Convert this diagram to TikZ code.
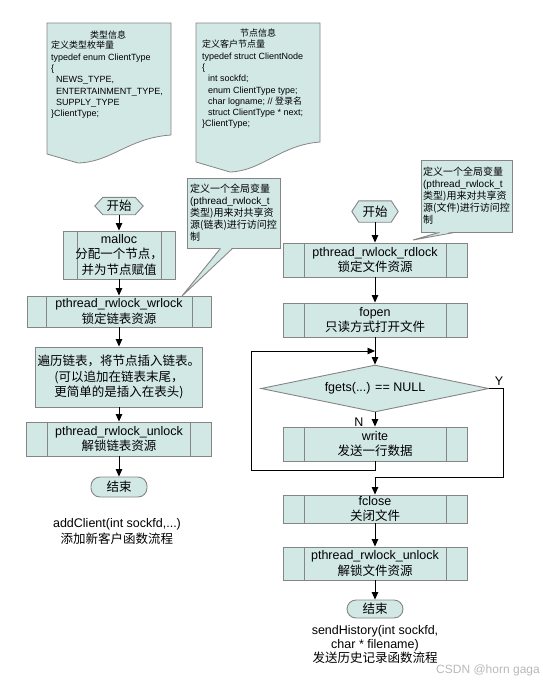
\documentclass[tikz,border=0pt]{standalone}
\usepackage{fontspec}
\setmainfont{Liberation Sans}
\newfontfamily\cjk{Noto Sans CJK SC}
\usepackage{tikz}
\usetikzlibrary{positioning,arrows.meta,shapes.geometric,backgrounds}
\definecolor{edge}{HTML}{858585}
\definecolor{tealbg}{HTML}{D1E8E5}
\newcommand\flowfont{\fontsize{12.5}{15.5}\selectfont}
\newcommand\notefont{\fontsize{9}{11.3}\selectfont}
\newcommand\callfont{\fontsize{10}{12}\selectfont}
\tikzset{
  >={Triangle[length=7.5pt,width=6.5pt]},
  box/.style={draw=edge, fill=tealbg, line width=0.9pt, inner sep=0pt, align=center, font=\flowfont},
  proc/.style={box, path picture={
      \draw[edge, line width=0.9pt]
        ([xshift=#1]path picture bounding box.north west) -- ([xshift=#1]path picture bounding box.south west)
        ([xshift=-#1]path picture bounding box.north east) -- ([xshift=-#1]path picture bounding box.south east);}},
  proc/.default=21pt,
  term/.style={box, rounded corners=9pt},
  hexa/.style={inner sep=0pt, font=\flowfont\cjk},
  hexline/.style={draw=edge, fill=tealbg, line width=0.9pt},
  decide/.style={box, diamond, aspect=4.85},
  docbox/.style={draw=edge, fill=tealbg, line width=0.8pt},
  callout/.style={box, font=\callfont, align=left},
  arr/.style={->, line width=0.9pt, black},
  lbl/.style={font=\flowfont, inner sep=0pt},
}
\begin{document}
\begin{tikzpicture}[x=1pt,y=-1pt]
  \useasboundingbox (0,0) rectangle (542,686);
  % data type notes
  \filldraw[docbox] (47,23) -- (171,23) -- (171,135) .. controls (128,138) and (112,162) .. (78,163) -- (47,154) -- cycle;
  \node[font=\notefont\cjk, inner sep=0pt] (t1) at (108,35) {类型信息};
  \node[font=\notefont, align=left, anchor=north west, inner sep=0pt] (t1b) at (51,41)
    {{\cjk 定义类型枚举量}\\typedef enum ClientType\\\{\\
     \hspace*{5pt}NEWS\_TYPE,\\\hspace*{5pt}ENTERTAINMENT\_TYPE,\\\hspace*{5pt}SUPPLY\_TYPE\\\}ClientType;};
  \filldraw[docbox] (196,23) -- (320,23) -- (320,142) .. controls (280,145) and (262,171) .. (230,172) -- (196,162) -- cycle;
  \node[font=\notefont\cjk, inner sep=0pt] (t2) at (258,33) {节点信息};
  \node[font=\notefont, align=left, anchor=north west, inner sep=0pt] (t2b) at (202,40)
    {{\cjk 定义客户节点量}\\typedef struct ClientNode\\\{\\
     \hspace*{6pt}int sockfd;\\\hspace*{6pt}enum ClientType type;\\\hspace*{6pt}char logname; // {\cjk 登录名}\\
     \hspace*{6pt}struct ClientType * next;\\\}ClientType;};

  % addClient
  \node[hexa, minimum width=48pt, minimum height=17pt] (ls) at (119,206) {开始};
  \begin{scope}[on background layer]
    \filldraw[hexline] (ls.west) -- ([xshift=8pt]ls.north west) -- ([xshift=-8pt]ls.north east) -- (ls.east)
      -- ([xshift=-8pt]ls.south east) -- ([xshift=8pt]ls.south west) -- cycle;
  \end{scope}
  \node[proc=14pt, minimum width=112pt, minimum height=48pt] (lm) at (119,255)
    {malloc\\{\cjk 分配一个节点，}\\{\cjk 并为节点赋值}};
  \node[proc=19pt, minimum width=184pt, minimum height=31pt] (lw) at (119,311.5)
    {pthread\_rwlock\_wrlock\\{\cjk 锁定链表资源}};
  \node[box, minimum width=167pt, minimum height=60pt, font=\flowfont\cjk] (lt) at (119,377)
    {遍历链表，将节点插入链表。\\(可以追加在链表末尾，\\更简单的是插入在表头)};
  \node[proc, minimum width=185pt, minimum height=34pt] (lu) at (119,439)
    {pthread\_rwlock\_unlock\\{\cjk 解锁链表资源}};
  \node[term, minimum width=56pt, minimum height=20pt, font=\flowfont\cjk] (le) at (119,487) {结束};
  \node[lbl, align=center] (lc) at (117,531.5) {addClient(int sockfd,...)\\{\cjk 添加新客户函数流程}};
  \draw[arr] (ls) -- (lm);
  \draw[arr] (lm) -- (lw);
  \draw[arr] (lw) -- (lt);
  \draw[arr] (lt) -- (lu);
  \draw[arr] (lu) -- (le);

  % rwlock note, left
  \node[callout, minimum width=93pt, minimum height=70pt] (lnote) at (233.5,213)
    {{\cjk 定义一个全局变量}\\(pthread\_rwlock\_t\\{\cjk 类型)用来对共享资}\\{\cjk 源(链表)进行访问控}\\{\cjk 制}};
  \coordinate (ltip) at (182,296);
  \fill[tealbg] ([xshift=-13pt,yshift=1pt]lnote.south) -- (ltip) -- ([xshift=-1pt,yshift=1pt]lnote.south) -- cycle;
  \draw[edge, line width=0.9pt] ([xshift=-13pt]lnote.south) -- (ltip) -- ([xshift=-1pt]lnote.south);

  % sendHistory
  \node[hexa, minimum width=46pt, minimum height=21pt] (rs) at (375,211.5) {开始};
  \begin{scope}[on background layer]
    \filldraw[hexline] (rs.west) -- ([xshift=7pt]rs.north west) -- ([xshift=-7pt]rs.north east) -- (rs.east)
      -- ([xshift=-7pt]rs.south east) -- ([xshift=7pt]rs.south west) -- cycle;
  \end{scope}
  \node[proc, minimum width=184pt, minimum height=34pt] (rr) at (375,260)
    {pthread\_rwlock\_rdlock\\{\cjk 锁定文件资源}};
  \node[proc, minimum width=184pt, minimum height=34pt] (ro) at (375,320)
    {fopen\\{\cjk 只读方式打开文件}};
  \node[decide, minimum width=228pt, minimum height=47pt] (rd) at (375,388.5) {fgets(...) == NULL};
  \node[proc, minimum width=184pt, minimum height=34pt] (rw) at (375,444)
    {write\\{\cjk 发送一行数据}};
  \node[proc, minimum width=184pt, minimum height=28pt] (rc) at (375,509)
    {fclose\\{\cjk 关闭文件}};
  \node[proc, minimum width=184pt, minimum height=33pt] (ru) at (375,563.5)
    {pthread\_rwlock\_unlock\\{\cjk 解锁文件资源}};
  \node[term, minimum width=56pt, minimum height=18pt, font=\flowfont\cjk] (re) at (375,609) {结束};
  \node[lbl, align=center, font=\fontsize{12.5}{14}\selectfont] (rcap) at (375,644)
    {sendHistory(int sockfd,\\char * filename)\\{\cjk 发送历史记录函数流程}};
  \node[lbl] (ylab) at (499,381) {Y};
  \node[lbl] (nlab) at (359,422) {N};
  \coordinate (lpb) at (251,470);
  \coordinate (j1) at (375,351);
  \coordinate (yb) at (503,477);
  \draw[arr] (rs) -- (rr);
  \draw[arr] (rr) -- (ro);
  \draw[arr] (ro) -- (rd);
  \draw[arr] (rd) -- (rw);
  \draw[arr] (rw.south) |- (lpb) |- (j1);
  \draw[arr] (rd.east) -| (yb) -| (rc.north);
  \draw[arr] (rc) -- (ru);
  \draw[arr] (ru) -- (re);

  % rwlock note, right
  \node[callout, minimum width=91pt, minimum height=72pt] (rnote) at (466.5,196)
    {{\cjk 定义一个全局变量}\\(pthread\_rwlock\_t\\{\cjk 类型)用来对共享资}\\{\cjk 源(文件)进行访问控}\\{\cjk 制}};
  \coordinate (rtip) at (413,240);
  \fill[tealbg] ([xshift=-27pt,yshift=1pt]rnote.south) -- (rtip) -- ([xshift=-12pt,yshift=1pt]rnote.south) -- cycle;
  \draw[edge, line width=0.9pt] ([xshift=-27pt]rnote.south) -- (rtip) -- ([xshift=-12pt]rnote.south);

  \node[font=\fontsize{12}{14}\selectfont, text=gray!55, anchor=east, inner sep=0pt] (wm) at (540,670) {CSDN @horn gaga};
\end{tikzpicture}
\end{document}
